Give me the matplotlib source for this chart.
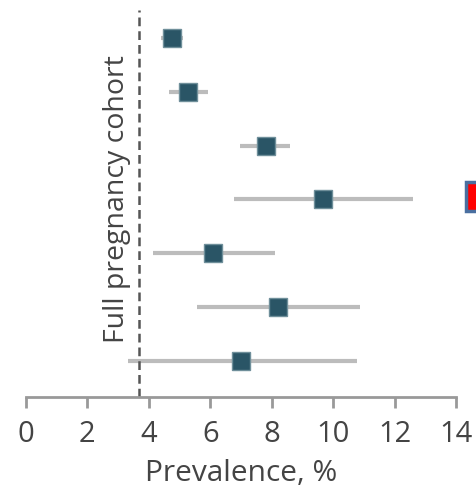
import matplotlib
matplotlib.use("Agg")
import matplotlib.pyplot as plt
from matplotlib.patches import Rectangle

# nilai prevalensi (%) dan batas CI, baris dari atas ke bawah
estimate = [4.75, 5.28, 7.82, 9.67, 6.09, 8.20, 7.00]
lower = [4.40, 4.66, 6.97, 6.78, 4.14, 5.57, 3.32]
upper = [5.10, 5.93, 8.60, 12.60, 8.11, 10.88, 10.78]
xticks = [0, 2, 4, 6, 8, 10, 12, 14]
ref_line = 3.68
label = "Full pregnancy cohort"

plt.rcParams["font.family"] = ["Open Sans", "DejaVu Sans"]

fig = plt.figure(figsize=(4.77, 4.93), dpi=100)
ax = fig.add_axes([0.0545, 0.195, 0.9015, 0.785])

rows = list(range(len(estimate)))
for r, e, lo, hi in zip(rows, estimate, lower, upper):
    ax.plot([lo, hi], [r, r], color="#bcbcbc", lw=3, solid_capstyle="butt", zorder=1)
ax.plot(estimate, rows, "s", ms=12.5, color="#2a5566", mec="#6f8f9a", mew=1, zorder=3)

ax.axvline(ref_line, color="#555555", lw=1.8, ls=(0, (3.5, 2)), zorder=2)

# kotak merah di tepi kanan (terpotong)
ax.add_patch(Rectangle((14.33, 2.67), 1.0, 0.54, facecolor="red", edgecolor="#4a6fa0",
                       lw=2.5, clip_on=False, zorder=4))

ax.set_xlim(0, 14)
ax.set_ylim(6.67, -0.52)
ax.set_xticks(xticks)
ax.set_yticks([])
for s in ["top", "right", "left"]:
    ax.spines[s].set_visible(False)
ax.spines["bottom"].set_color("#999999")
ax.spines["bottom"].set_linewidth(2)
ax.tick_params(axis="x", colors="#999999", width=2, length=8, labelsize=21,
               labelcolor="#444444", pad=9)
ax.set_xlabel("Prevalence, %", fontsize=21.5, color="#444444", labelpad=7)

ax.text(2.95, 3.0, label, rotation=90, ha="center", va="center", fontsize=20.5,
        color="#444444")

fig.savefig("out.png", dpi=100)
